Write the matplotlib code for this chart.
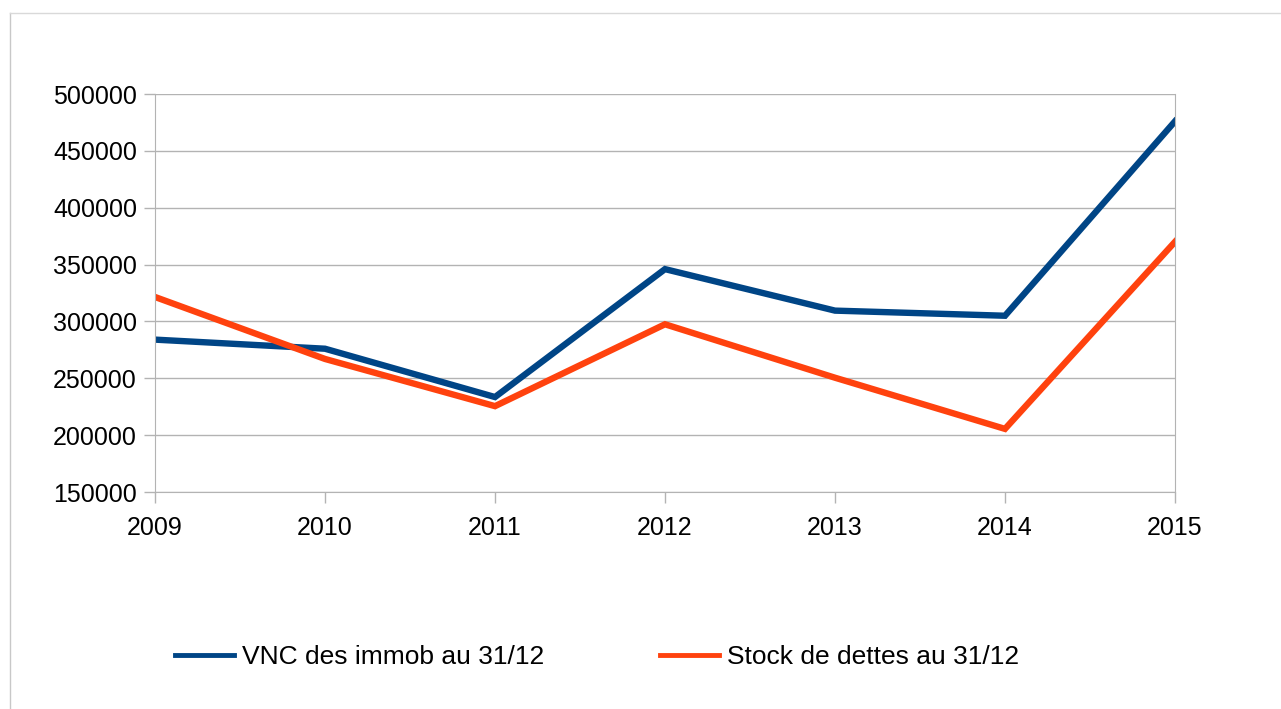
import matplotlib.pyplot as plt
from matplotlib.lines import Line2D

# Données
annees = [2009, 2010, 2011, 2012, 2013, 2014, 2015]
vnc_immob = [284000, 276000, 233500, 346000, 309500, 305000, 476000]
stock_dettes = [321500, 267000, 225500, 297500, 250500, 205500, 370000]
yticks = [150000, 200000, 250000, 300000, 350000, 400000, 450000, 500000]

plt.rcParams['font.family'] = ['Liberation Sans', 'DejaVu Sans']

fig = plt.figure(figsize=(12.81, 7.09), dpi=100)
W, H = 1281, 709
ax = fig.add_axes([155 / W, 1 - 492 / H, (1175 - 155) / W, (492 - 94) / H])

ax.plot(annees, vnc_immob, color='#004586', lw=4.6, label='VNC des immob au 31/12',
        solid_joinstyle='miter')
ax.plot(annees, stock_dettes, color='#ff420e', lw=4.6, label='Stock de dettes au 31/12',
        solid_joinstyle='miter')

ax.set_xlim(annees[0], annees[-1])
ax.set_ylim(yticks[0], yticks[-1])
ax.set_xticks(annees)
ax.set_yticks(yticks)
ax.set_xticklabels([str(a) for a in annees])
ax.set_yticklabels([str(v) for v in yticks])
ax.grid(axis='y', color='#b3b3b3', lw=1)
ax.set_axisbelow(True)
for side in ['left', 'right', 'bottom']:
    ax.spines[side].set_color('#b3b3b3')
ax.spines['top'].set_visible(False)
ax.tick_params(axis='both', length=8, width=1, color='#b3b3b3', labelsize=18, pad=5)
ax.tick_params(axis='x', pad=9)

# légende en bas
leg = fig.legend(loc='center', bbox_to_anchor=(597 / W, 1 - 657 / H), ncol=2, frameon=False,
                 fontsize=19, handlelength=2.25, handletextpad=0.28, columnspacing=4.4)
for h in leg.get_lines():
    h.set_linewidth(3.5)

# cadre du graphique
fig.add_artist(Line2D([9.5 / W, 9.5 / W], [0, 1 - 13 / H], color='#c8c8c8', lw=1))
fig.add_artist(Line2D([9.5 / W, 1280 / W], [1 - 13 / H, 1 - 13 / H], color='#d9d9d9', lw=1))

fig.savefig('out.png', dpi=100)
